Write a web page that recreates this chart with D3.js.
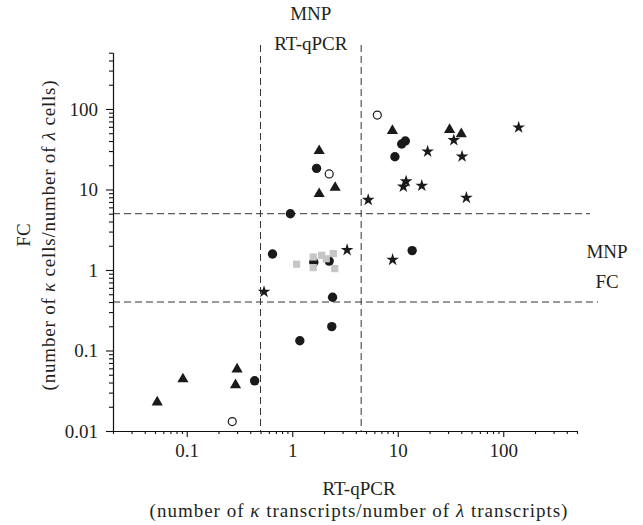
<!DOCTYPE html>
<html>
<head>
<meta charset="utf-8">
<script src="https://cdn.jsdelivr.net/npm/d3@7"></script>
<style>
  body { margin: 0; background: #fff; }
  text { font-family: "Liberation Serif", "DejaVu Serif", serif; fill: #231f20; }
</style>
</head>
<body>
<div id="chart"></div>
<script>
// values: [RT-qPCR ratio, FC ratio]
const triangles = [[0.0525, 0.0238], [0.092, 0.046], [0.30, 0.061], [0.29, 0.039],
    [1.8, 31.5], [1.8, 9.2], [2.55, 11], [8.9, 56], [31, 57.5], [40, 51]];
const filledCircles = [[0.44, 0.042], [1.18, 0.132], [2.37, 0.198], [2.41, 0.458],
    [0.65, 1.58], [0.96, 5.0], [1.7, 18.3], [2.24, 1.29], [1.6, 1.25], [9.4, 25.5],
    [10.9, 36.7], [11.8, 40], [13.7, 1.74]];
const openCircles = [[0.27, 0.0131], [2.24, 15.6], [6.4, 84]];
const stars = [[0.54, 0.548], [3.31, 1.81], [5.25, 7.6], [8.94, 1.37], [11.3, 11.1],
    [12.0, 12.9], [16.9, 11.4], [19.2, 30.3], [34, 42], [40.7, 26.3], [44.7, 8.07], [140, 60.3]];
const graySquares = [[1.1, 1.18], [1.58, 1.07], [1.58, 1.45], [1.9, 1.52], [2.1, 1.38],
    [2.45, 1.6], [2.53, 1.04]];

// cut-offs (dashed lines)
const xCutoffs = [0.5, 4.5];
const yCutoffs = [5, 0.4];

const xDomain = [0.02, 500];
const yDomain = [0.01, 500];
const xMajor = [0.1, 1, 10, 100];
const yMajor = [0.01, 0.1, 1, 10, 100];
const xTickLabels = ["0.1", "1", "10", "100"];
const yTickLabels = ["0.01", "0.1", "1", "10", "100"];

function minorTicks(domain) {
    let out = [];
    for (let p = -3; p <= 3; p++) {
        for (let m = 2; m <= 9; m++) {
            let v = +(m * Math.pow(10, p)).toPrecision(3);
            if (v >= domain[0] && v <= domain[1]) out.push(v);
        }
    }
    return out;
}

let width = 643, height = 525;
let svg = d3.select("#chart").append("svg")
    .attr("width", width)
    .attr("height", height);

let x = d3.scaleLog().domain(xDomain).range([113, 577]);
let y = d3.scaleLog().domain(yDomain).range([431, 52.7]);

// dashed reference lines
let refs = svg.append("g").attr("class", "refs")
    .attr("stroke", "#333").attr("stroke-width", 1).attr("stroke-dasharray", "7,4");
refs.selectAll("line.v").data(xCutoffs).enter().append("line")
    .attr("class", "v")
    .attr("x1", d => x(d)).attr("x2", d => x(d))
    .attr("y1", 45).attr("y2", y.range()[0]);
refs.selectAll("line.h").data(yCutoffs).enter().append("line")
    .attr("class", "h")
    .attr("x1", x.range()[0])
    .attr("x2", (d, i) => x.range()[1] + (i === 0 ? 13 : 21))
    .attr("y1", d => y(d)).attr("y2", d => y(d));

// axes
let xAxis = svg.append("g").attr("transform", "translate(0," + y.range()[0] + ")");
xAxis.call(d3.axisBottom(x).tickValues(xMajor).tickSize(6).tickSizeOuter(0)
    .tickFormat((d, i) => xTickLabels[i]).tickPadding(7));
xAxis.append("g").call(d3.axisBottom(x).tickValues(minorTicks(xDomain)).tickSize(3)
    .tickSizeOuter(0).tickFormat(""));

let yAxis = svg.append("g").attr("transform", "translate(" + x.range()[0] + ",0)");
yAxis.call(d3.axisLeft(y).tickValues(yMajor).tickSize(7).tickSizeOuter(0)
    .tickFormat((d, i) => yTickLabels[i]).tickPadding(8));
yAxis.append("g").call(d3.axisLeft(y).tickValues(minorTicks(yDomain)).tickSize(4)
    .tickSizeOuter(0).tickFormat(""));

svg.selectAll(".domain, .tick line").attr("stroke", "#111").attr("stroke-width", 1.1);
svg.selectAll(".tick text").style("font-family", "Liberation Serif").style("font-size", "19px")
    .attr("fill", "#231f20");

// markers
let marks = svg.append("g").attr("class", "marks");

marks.selectAll("circle.filled").data(filledCircles).enter().append("circle")
    .attr("class", "filled")
    .attr("cx", d => x(d[0])).attr("cy", d => y(d[1]))
    .attr("r", 4.7).attr("fill", "#1a1a1a");

marks.selectAll("rect.gray").data(graySquares).enter().append("rect")
    .attr("class", "gray")
    .attr("x", d => x(d[0]) - 3.6).attr("y", d => y(d[1]) - 3.6)
    .attr("width", 7.2).attr("height", 7.2)
    .attr("fill", "#c6c6c6");

marks.selectAll("circle.open").data(openCircles).enter().append("circle")
    .attr("class", "open")
    .attr("cx", d => x(d[0])).attr("cy", d => y(d[1]))
    .attr("r", 4).attr("fill", "#fff").attr("stroke", "#1a1a1a").attr("stroke-width", 1.2);

let tri = d3.symbol().type(d3.symbolTriangle).size(54);
marks.selectAll("path.tri").data(triangles).enter().append("path")
    .attr("class", "tri")
    .attr("d", tri)
    .attr("transform", d => "translate(" + x(d[0]) + "," + (y(d[1]) + 1.5) + ")")
    .attr("fill", "#1a1a1a");

let star = d3.symbol().type(d3.symbolStar).size(50);
marks.selectAll("path.star").data(stars).enter().append("path")
    .attr("class", "star")
    .attr("d", star)
    .attr("transform", d => "translate(" + x(d[0]) + "," + (y(d[1]) + 0.8) + ")")
    .attr("fill", "#1a1a1a");

// region labels
let lbl = svg.append("g").style("font-size", "19px").attr("text-anchor", "middle");
let midX = (x(xCutoffs[0]) + x(xCutoffs[1])) / 2;
lbl.append("text").attr("x", midX).attr("y", 20).text("MNP");
lbl.append("text").attr("x", midX).attr("y", 50).text("RT-qPCR");
lbl.append("text").attr("x", 607).attr("y", 258).text("MNP");
lbl.append("text").attr("x", 607).attr("y", 288).text("FC");

// axis titles
let titles = svg.append("g").style("font-size", "19px").attr("text-anchor", "middle");
let xMid = 359;
titles.append("text").attr("x", xMid).attr("y", 495).text("RT-qPCR");
let xt = titles.append("text").attr("x", xMid).attr("y", 517).style("letter-spacing", "1px");
xt.append("tspan").text("(number of ");
xt.append("tspan").style("font-style", "italic").text("κ");
xt.append("tspan").text(" transcripts/number of ");
xt.append("tspan").style("font-style", "italic").text("λ");
xt.append("tspan").text(" transcripts)");

let yMid = 235;
titles.append("text").attr("transform", "translate(30," + yMid + ") rotate(-90)").text("FC");
let yt = titles.append("text").attr("transform", "translate(55," + yMid + ") rotate(-90)")
    .style("letter-spacing", "0.8px");
yt.append("tspan").text("(number of ");
yt.append("tspan").style("font-style", "italic").text("κ");
yt.append("tspan").text(" cells/number of ");
yt.append("tspan").style("font-style", "italic").text("λ");
yt.append("tspan").text(" cells)");
</script>
</body>
</html>
